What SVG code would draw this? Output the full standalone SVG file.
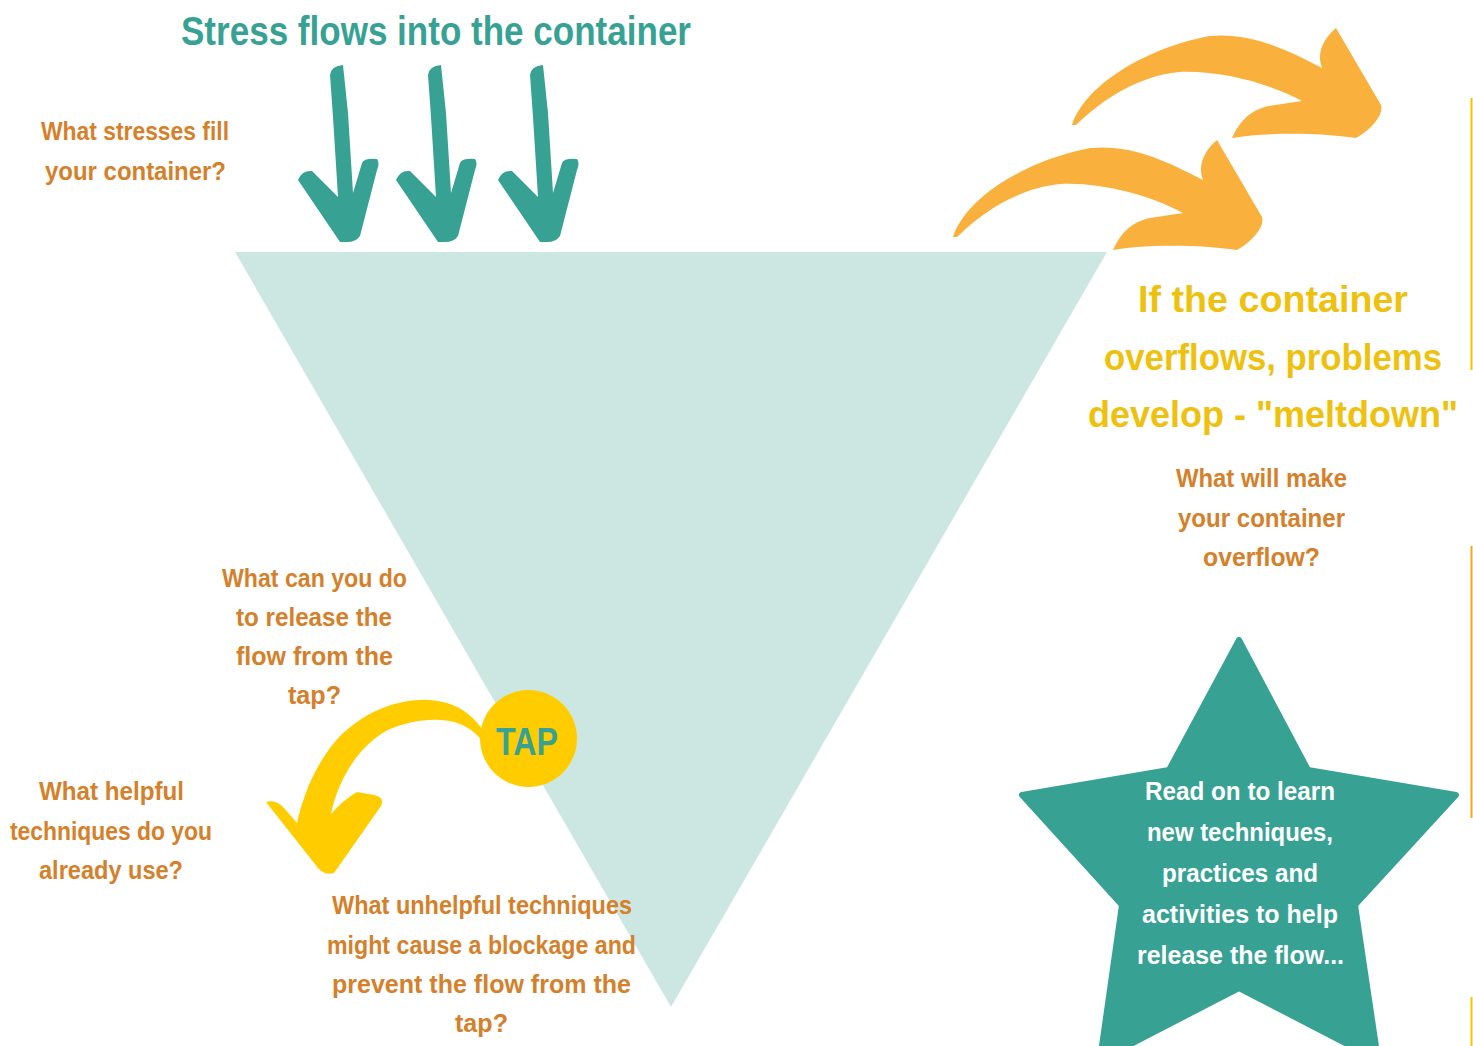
<svg xmlns="http://www.w3.org/2000/svg" width="1473" height="1046" viewBox="0 0 1473 1046">
<style>
.t{font-family:"Liberation Sans",Arial,sans-serif;font-weight:bold}
.q{font-size:25px;fill:#D5802A}
.big{font-size:36px}
.w{font-size:26px;fill:#FFFFFF}
</style>
<defs>
<path id="tealArrow" d="M330,75 Q331,66 343,65 L348,113 L353,193 L362,163 Q364,158 377,159 Q380,163 377,170 L360,236 Q356,242 347,242 L340,242 L298,180 Q302,170 312,171 L338,197 L333,117 Z" fill="#37A293"/>
<path id="swoosh" d="M953,237 C965,200 1020,162 1090,148 C1130,144 1165,160 1203,180 C1197,165 1205,150 1217,140 L1262,217 C1265,225 1255,240 1237,250 C1200,245 1150,244 1113,250 C1120,235 1130,222 1150,218 L1183,213 C1150,195 1100,182 1060,184 C1020,188 985,210 957,237 Z" fill="#FAB03C"/>
</defs>
<rect width="1473" height="1046" fill="#FFFFFF"/>

<g id="container">
<polygon points="235,252 1107,252 671,1007" fill="#CCE7E2"/>
</g>

<g id="connectors">
<use href="#tealArrow"/>
<use href="#tealArrow" transform="translate(98,0)"/>
<use href="#tealArrow" transform="translate(200,0)"/>
<use href="#swoosh"/>
<use href="#swoosh" transform="translate(119,-112)"/>
<path d="M483,730 C470,712 455,702 430,700 C395,698 355,715 330,748 C312,772 302,800 297,823 L284,808 Q276,799 266,802 L318,868 Q325,876 334,873 L381,806 Q385,797 374,795 L357,792 Q343,800 331,814 C338,780 358,746 388,730 C410,720 440,716 460,724 C470,728 478,735 483,742 Z" fill="#FFCC00"/>
</g>

<g id="edge-lines" stroke-width="2">
<line x1="1471.5" y1="98" x2="1471.5" y2="370" stroke="#F5C400"/>
<line x1="1471.5" y1="546" x2="1471.5" y2="818" stroke="#F6A623"/>
<line x1="1471.5" y1="997" x2="1471.5" y2="1046" stroke="#F5C400"/>
</g>

<g id="title">
<text class="t" x="181" y="45" font-size="40" fill="#37A293" textLength="510" lengthAdjust="spacingAndGlyphs">Stress flows into the container</text>
</g>

<g id="q-stresses">
<text class="t q" x="41" y="140" textLength="188" lengthAdjust="spacingAndGlyphs">What stresses fill</text>
<text class="t q" x="45" y="180" textLength="181" lengthAdjust="spacingAndGlyphs">your container?</text>
</g>

<g id="overflow">
<text class="t big" x="1138" y="312" fill="#EEC10F" textLength="270" lengthAdjust="spacingAndGlyphs">If the container</text>
<text class="t big" x="1104" y="370" fill="#EEC10F" textLength="338" lengthAdjust="spacingAndGlyphs">overflows, problems</text>
<text class="t big" x="1088" y="427" fill="#EEC10F" textLength="370" lengthAdjust="spacingAndGlyphs">develop  - "meltdown"</text>
</g>

<g id="q-overflow">
<text class="t q" x="1176" y="487" textLength="171" lengthAdjust="spacingAndGlyphs">What will make</text>
<text class="t q" x="1178" y="527" textLength="167" lengthAdjust="spacingAndGlyphs">your container</text>
<text class="t q" x="1203" y="566" textLength="117" lengthAdjust="spacingAndGlyphs">overflow?</text>
</g>

<g id="q-release">
<text class="t q" x="222" y="587" textLength="185" lengthAdjust="spacingAndGlyphs">What can you do</text>
<text class="t q" x="236" y="626" textLength="156" lengthAdjust="spacingAndGlyphs">to release the</text>
<text class="t q" x="236" y="665" textLength="157" lengthAdjust="spacingAndGlyphs">flow from the</text>
<text class="t q" x="288" y="704" textLength="53" lengthAdjust="spacingAndGlyphs">tap?</text>
</g>

<g id="q-helpful">
<text class="t q" x="39" y="800" textLength="145" lengthAdjust="spacingAndGlyphs">What helpful</text>
<text class="t q" x="10" y="840" textLength="202" lengthAdjust="spacingAndGlyphs">techniques do you</text>
<text class="t q" x="39" y="879" textLength="144" lengthAdjust="spacingAndGlyphs">already use?</text>
</g>

<g id="q-unhelpful">
<text class="t q" x="332" y="914" textLength="300" lengthAdjust="spacingAndGlyphs">What unhelpful techniques</text>
<text class="t q" x="327" y="954" textLength="309" lengthAdjust="spacingAndGlyphs">might cause a blockage and</text>
<text class="t q" x="332" y="993" textLength="299" lengthAdjust="spacingAndGlyphs">prevent the flow from the</text>
<text class="t q" x="455" y="1032" textLength="53" lengthAdjust="spacingAndGlyphs">tap?</text>
</g>

<g id="tap">
<circle cx="528.5" cy="738.5" r="48.5" fill="#FFCC00"/>
<text class="t" x="496" y="755" font-size="38" fill="#37A293" textLength="62" lengthAdjust="spacingAndGlyphs">TAP</text>
</g>

<g id="star">
<polygon points="1239,640 1308,770 1456,795 1355,905 1378,1060 1239,988 1100,1060 1122,905 1022,795 1169,770" fill="#37A293" stroke="#37A293" stroke-width="6" stroke-linejoin="round"/>
<text class="t w" x="1145" y="800" textLength="190" lengthAdjust="spacingAndGlyphs">Read on to learn</text>
<text class="t w" x="1147" y="841" textLength="186" lengthAdjust="spacingAndGlyphs">new techniques,</text>
<text class="t w" x="1162" y="882" textLength="156" lengthAdjust="spacingAndGlyphs">practices and</text>
<text class="t w" x="1142" y="923" textLength="196" lengthAdjust="spacingAndGlyphs">activities to help</text>
<text class="t w" x="1137" y="964" textLength="207" lengthAdjust="spacingAndGlyphs">release the flow...</text>
</g>
</svg>
